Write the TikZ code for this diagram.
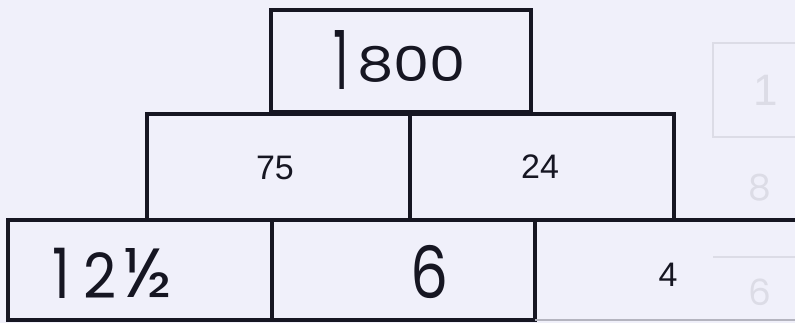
\documentclass[tikz,border=0pt]{standalone}
\usepackage{fontspec}
\usepackage{graphicx}
\setmainfont{Liberation Sans}
\newfontfamily\handfont{Poppins}
\definecolor{paper}{RGB}{240,240,250}
\definecolor{ink}{RGB}{22,22,34}
\definecolor{faint}{RGB}{220,220,230}
\newcommand{\hsz}[1]{\fontsize{#1}{#1}\selectfont}
\begin{document}
\begin{tikzpicture}[x=1pt,y=-1pt,
  cell/.style={draw=ink,line width=4.2pt,inner sep=0pt,anchor=center},
  printed/.style={text=ink,font=\hsz{34}},
  hand/.style={text=ink,font=\handfont\hsz{48},inner sep=0pt},
  ghost/.style={text=faint,font=\handfont\hsz{36},inner sep=0pt}]
\fill[paper] (0,0) rectangle (795,323);
\useasboundingbox (0,0) rectangle (795,323);
% faint show-through on the right
\draw[faint,line width=2pt] (713,43) rectangle (820,137);
\node[ghost,font=\hsz{44}] (g1) at (766,90) {1};
\node[ghost] (g8) at (760,188) {8};
\draw[faint,line width=2pt] (713,257) -- (795,257);
\node[ghost] (g6) at (760,292) {6};
% top
\node[cell,minimum width=260pt,minimum height=102pt] (top) at (401,61) {};
% middle row
\node[cell,minimum width=263pt,minimum height=106pt] (m1) at (278.5,167) {};
\node[cell,minimum width=264pt,minimum height=106pt] (m2) at (542,167) {};
% bottom row
\node[cell,minimum width=264pt,minimum height=100pt] (b1) at (140,270) {};
\node[cell,minimum width=263pt,minimum height=100pt] (b2) at (403.5,270) {};
\node[inner sep=0pt,minimum width=270pt,minimum height=100pt] (b3) at (670,270) {};
\draw[ink,line width=4.2pt] (b3.north west) -- (b3.north east);
\draw[faint!80!ink,line width=1.5pt] (b3.south west) -- (b3.south east);
% texts
\node[hand,anchor=base] (t1800) at (400,82) {\raisebox{-8pt}{\scalebox{1}[1.7]{1}}\kern8pt\scalebox{1.2}[1]{800}};
\node[printed] (t75) at (275,168) {75};
\node[printed] (t24) at (540,167) {24};
\node[hand,anchor=base] (t12) at (112,298) {\scalebox{1.15}[1.45]{1}\kern14pt\scalebox{1.2}[1.3]{2}\kern6pt\raisebox{1pt}{\scalebox{1.5}[1.45]{\hsz{48}½}}};
\node[hand,anchor=base] (t6) at (430,298) {\scalebox{1.25}[1.5]{6}};
\node[printed] (t4) at (668,275) {4};
\end{tikzpicture}
\end{document}
